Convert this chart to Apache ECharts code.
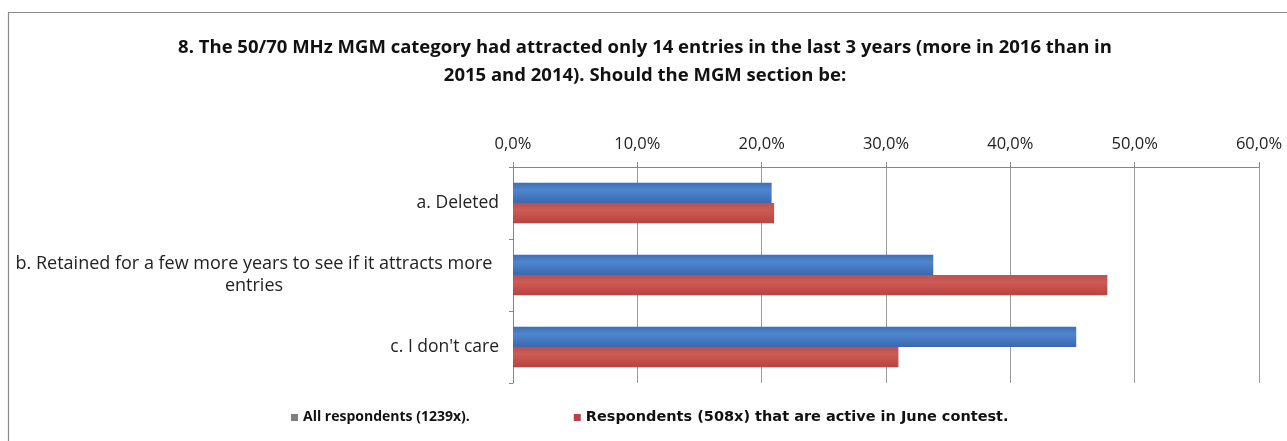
<!DOCTYPE html>
<html>
<head>
<meta charset="utf-8">
<script src="https://cdn.jsdelivr.net/npm/echarts@6/dist/echarts.min.js"></script>
<style>
  html, body { margin: 0; padding: 0; background: #fff; }
  #chart { width: 1287px; height: 441px; }
</style>
</head>
<body>
<div id="chart"></div>
<script>
// categories and values (percent)
const categories = [
  'a. Deleted',
  'b. Retained for a few more years to see if it attracts more\nentries',
  'c. I don\'t care'
]
const allRespondents = [20.8, 33.8, 45.3]
const activeJune = [21.0, 47.8, 31.0]
const seriesNames = ['All respondents (1239x).', 'Respondents (508x) that are active in June contest.']
const titleText = '8. The 50/70 MHz MGM category had attracted only 14 entries in the last 3 years (more in 2016 than in\n2015 and 2014). Should the MGM section be:'

const font = '"Open Sans", Lato, sans-serif'

// excel-ish bar shading
const shade = (top, mid, bottom) => new echarts.graphic.LinearGradient(0, 0, 0, 1, [
  { offset: 0, color: top },
  { offset: 0.35, color: mid },
  { offset: 1, color: bottom }
])

// wrapped category label: lines centred inside a right-aligned block
const catLabel = v => {
  const lines = v.split('\n')
  if (lines.length === 1) return v
  return lines.map(l => '{c|' + l + '}').join('\n')
}

const chart = echarts.init(document.getElementById('chart'))
chart.setOption({
  backgroundColor: '#fff',
  animation: false,
  title: {
    text: titleText,
    left: 640,
    textAlign: 'center',
    top: 29,
    textStyle: { fontFamily: font, fontSize: 18.5, fontWeight: 'bold', color: '#111', lineHeight: 28 }
  },
  graphic: [
    {
      type: 'rect',
      shape: { x: 8.5, y: 12.5, width: 1300, height: 460 },
      style: { fill: 'none', stroke: '#8a8a8a', lineWidth: 1.2 },
      silent: true
    }
  ],
  legend: {
    left: 286,
    top: 405,
    icon: 'rect',
    itemWidth: 7,
    itemHeight: 7,
    itemGap: 104,
    textStyle: { fontFamily: font, fontSize: 14, fontWeight: 'bold', color: '#111' },
    data: [
      { name: seriesNames[0], itemStyle: { color: '#7f7f7f' } },
      {
        name: seriesNames[1],
        itemStyle: { color: '#b8434f' },
        textStyle: { fontFamily: '"DejaVu Sans", sans-serif', fontSize: 14.5, fontWeight: 'bold', color: '#111' }
      }
    ]
  },
  grid: { left: 513, right: 28, top: 167, bottom: 58 },
  xAxis: {
    type: 'value',
    position: 'top',
    min: 0,
    max: 60,
    interval: 10,
    axisLine: { show: true, lineStyle: { color: '#868686' } },
    axisTick: { show: true, length: 5, lineStyle: { color: '#868686' } },
    splitLine: { show: true, lineStyle: { color: '#9a9a9a' } },
    axisLabel: {
      formatter: v => v.toFixed(1).replace('.', ',') + '%',
      fontFamily: font,
      fontSize: 16.5,
      color: '#222',
      margin: 14
    }
  },
  yAxis: {
    type: 'category',
    inverse: true,
    data: categories,
    axisLine: { show: true, lineStyle: { color: '#868686' } },
    axisTick: { show: true, length: 4, lineStyle: { color: '#868686' } },
    axisLabel: {
      formatter: catLabel,
      fontFamily: font,
      fontSize: 17.5,
      color: '#222',
      margin: 14,
      align: 'right',
      lineHeight: 22,
      rich: {
        c: { fontFamily: font, fontSize: 18, color: '#222', width: 490, align: 'center', lineHeight: 22 }
      }
    }
  },
  series: [
    {
      name: seriesNames[0],
      type: 'bar',
      data: allRespondents,
      barGap: '0%',
      barCategoryGap: '44%',
      itemStyle: { color: shade('#3f6fb5', '#4f86cf', '#3b68ad') }
    },
    {
      name: seriesNames[1],
      type: 'bar',
      data: activeJune,
      itemStyle: { color: shade('#c0504d', '#cc5a55', '#b8433f') }
    }
  ]
})
</script>
</body>
</html>
